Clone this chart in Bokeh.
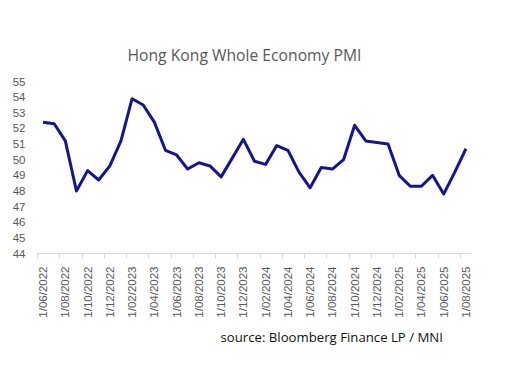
import numpy as np
from bokeh.plotting import figure
from bokeh.models import FixedTicker, Title, Range1d
from bokeh.embed import file_html
from bokeh.resources import INLINE

months = ["1/06/2022", "1/07/2022", "1/08/2022", "1/09/2022", "1/10/2022", "1/11/2022",
          "1/12/2022", "1/01/2023", "1/02/2023", "1/03/2023", "1/04/2023", "1/05/2023",
          "1/06/2023", "1/07/2023", "1/08/2023", "1/09/2023", "1/10/2023", "1/11/2023",
          "1/12/2023", "1/01/2024", "1/02/2024", "1/03/2024", "1/04/2024", "1/05/2024",
          "1/06/2024", "1/07/2024", "1/08/2024", "1/09/2024", "1/10/2024", "1/11/2024",
          "1/12/2024", "1/01/2025", "1/02/2025", "1/03/2025", "1/04/2025", "1/05/2025",
          "1/06/2025", "1/07/2025", "1/08/2025"]
pmi = [52.4, 52.3, 51.2, 48.0, 49.3, 48.7, 49.6, 51.2, 53.9, 53.5, 52.4, 50.6,
       50.3, 49.4, 49.8, 49.6, 48.9, 50.1, 51.3, 49.9, 49.7, 50.9, 50.6, 49.2,
       48.2, 49.5, 49.4, 50.0, 52.2, 51.2, 51.1, 51.0, 49.0, 48.3, 48.3, 49.0,
       47.8, 49.2, 50.7]
y_ticks = list(range(44, 56))

x = list(range(len(months)))
label_pos = x[::2]
tick_pos = [i - 0.5 for i in label_pos]

p = figure(width=493, height=370, output_backend="svg", toolbar_location=None,
           x_range=Range1d(-0.5, len(months) - 0.5), y_range=Range1d(44, 55),
           min_border_left=37, min_border_right=22, min_border_top=81,
           min_border_bottom=117)
p.outline_line_color = None
p.xgrid.visible = False
p.ygrid.visible = False
p.background_fill_color = "white"

p.line(x, pmi, line_color="#15168c", line_width=3, line_join="round")

ax = p.xaxis[0]
ax.ticker = FixedTicker(ticks=label_pos, minor_ticks=tick_pos)
ax.major_label_overrides = {i: months[i] for i in label_pos}
ax.major_label_orientation = np.pi / 2
ax.major_tick_out = 0
ax.major_tick_in = 0
ax.minor_tick_out = 5
ax.minor_tick_in = 0
ax.axis_line_color = "#d9d9d9"
ax.minor_tick_line_color = "#d9d9d9"
ax.major_label_text_font = "Liberation Sans"
ax.major_label_text_font_size = "11.5px"
ax.major_label_text_color = "#595959"
ax.major_label_standoff = 8

ay = p.yaxis[0]
ay.ticker = FixedTicker(ticks=y_ticks)
ay.axis_line_color = None
ay.major_tick_line_color = None
ay.minor_tick_line_color = None
ay.major_label_text_font = "Liberation Sans"
ay.major_label_text_font_size = "11.5px"
ay.major_label_text_color = "#595959"
ay.major_label_standoff = 6

title = Title(text="Hong Kong Whole Economy PMI", align="left", offset=90,
              text_font="Open Sans", text_font_size="15.7px", text_color="#595959",
              text_font_style="normal", standoff=32)
p.add_layout(title, "above")
source = Title(text="source: Bloomberg Finance LP / MNI", align="left", offset=183,
               text_font="Open Sans", text_font_size="13.2px", text_color="#111111",
               text_font_style="normal", standoff=11)
p.add_layout(source, "below")

open("out.html", "w").write(file_html(p, INLINE))
